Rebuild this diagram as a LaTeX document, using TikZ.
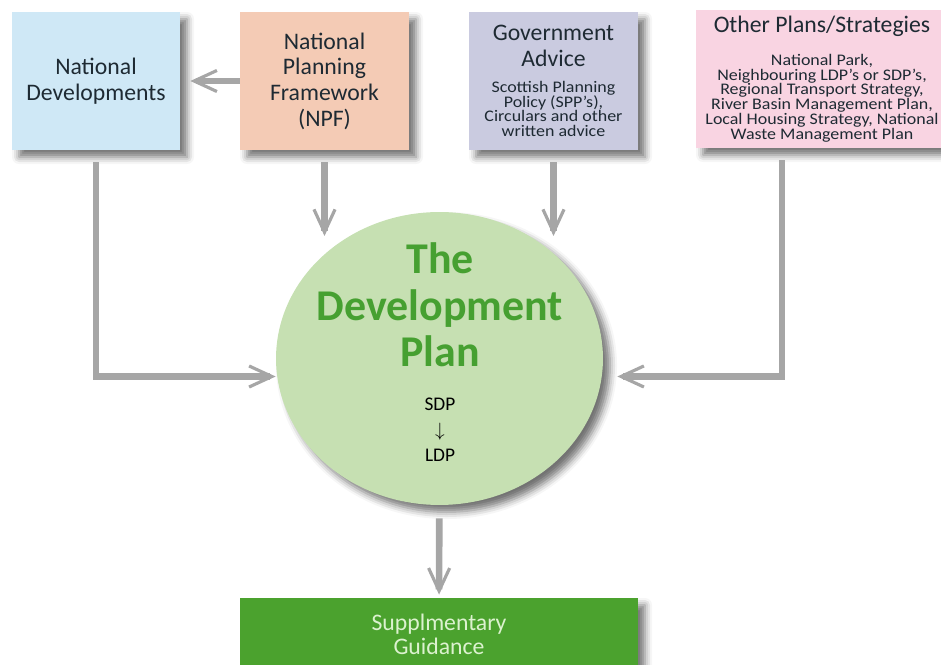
\documentclass[tikz,border=0pt]{standalone}
\usepackage{fontspec}
\setmainfont{Carlito}
\newfontfamily\notefamily{Carlito}[FakeStretch=1.11]
\usetikzlibrary{arrows.meta,shapes.geometric,shadows.blur}

\definecolor{inkdark}{HTML}{1E2A33}
\definecolor{arrowgray}{HTML}{A6A6A6}
\definecolor{natfill}{HTML}{CFE8F6}
\definecolor{npffill}{HTML}{F4CBB5}
\definecolor{govfill}{HTML}{CACBE0}
\definecolor{otherfill}{HTML}{F9D4E2}
\definecolor{planfill}{HTML}{C6E0B2}
\definecolor{plangreen}{HTML}{46A031}
\definecolor{suppfill}{HTML}{4BA22E}
\definecolor{supptext}{HTML}{DCF2CF}

\newcommand\headfont{\fontsize{13.5}{14.6}\selectfont}
\newcommand\notefont[1]{\notefamily\fontsize{9.2}{#1}\selectfont\lineskiplimit=-10pt}

\begin{document}
\begin{tikzpicture}[
        x=0.02cm, y=-0.02cm,
        source/.style={rectangle, align=center, text=inkdark, inner sep=0pt,
            minimum height=2.76cm,
            blur shadow={shadow xshift=4pt, shadow yshift=-4pt, shadow blur radius=4pt, shadow opacity=55}},
        flow/.style={draw=arrowgray, line width=3.8pt,
            -{Straight Barb[length=13pt, width=12pt, line width=1.8pt]}},
        feed/.style={shorten <=0.24cm}
    ]
        \useasboundingbox (0,0) rectangle (941,665);

        % Sources along the top
        \node[source, fill=natfill, minimum width=3.36cm, font=\headfont] (natdev) at (96,81)
            {National\\Developments};
        \node[source, fill=npffill, minimum width=3.38cm, font=\headfont] (npf) at (324.5,81)
            {National\\Planning\\Framework\\(NPF)};
        \node[source, fill=govfill, minimum width=3.38cm, font=\notefont{8.4}] (gov) at (553.5,81)
            {{\normalfont\headfont Government}\\[6.3pt]{\normalfont\headfont Advice}\\[6.3pt]Scottish Planning\\Policy (SPP’s),\\Circulars and other\\written advice};
        \node[source, fill=otherfill, minimum width=5.04cm, font=\notefont{8.4}] (other) at (822,79)
            {{\normalfont\headfont Other Plans/Strategies}\\[10.3pt]National Park,\\Neighbouring LDP’s or SDP’s,\\Regional Transport Strategy,\\River Basin Management Plan,\\Local Housing Strategy, National\\Waste Management Plan};

        % The plan itself
        \node[ellipse, fill=planfill, minimum width=6.54cm, minimum height=5.86cm,
            blur shadow={shadow xshift=4pt, shadow yshift=-4pt, shadow blur radius=4pt, shadow opacity=55}] (plan) at (439.5,358.5) {};
        \node[align=center, text=plangreen, font=\fontsize{25}{26.6}\selectfont\bfseries] (plantitle) at (440,305)
            {The\\Development\\Plan};
        \node[align=center, text=black, font=\fontsize{11}{14.5}\selectfont] (plansub) at (440,430)
            {SDP\\$\downarrow$\\LDP};

        \node[rectangle, fill=suppfill, text=supptext, align=center, font=\fontsize{13.5}{13.6}\selectfont,
            minimum width=7.96cm, minimum height=1.44cm,
            blur shadow={shadow xshift=4pt, shadow yshift=-4pt, shadow blur radius=4pt, shadow opacity=55}] (supp) at (439,634)
            {Supplmentary\\Guidance};

        % Arrow ends that stop short of the plan
        \coordinate (npfin) at (324.5,236);
        \coordinate (govin) at (553.5,236);

        % Connectors
        \draw[flow, shorten >=0.2cm] (npf) -- (natdev);
        \draw[flow, feed] (npf) -- (npfin);
        \draw[flow, feed] (gov) -- (govin);
        \draw[flow, feed] (natdev) |- ([yshift=-0.36cm]plan.west);
        \draw[flow, feed, shorten >=0.28cm] ([xshift=-0.8cm]other.south) |- ([yshift=-0.36cm]plan.east);
        \draw[flow, shorten <=0.26cm, shorten >=0.06cm] (plan) -- (supp);

    \end{tikzpicture}
\end{document}
